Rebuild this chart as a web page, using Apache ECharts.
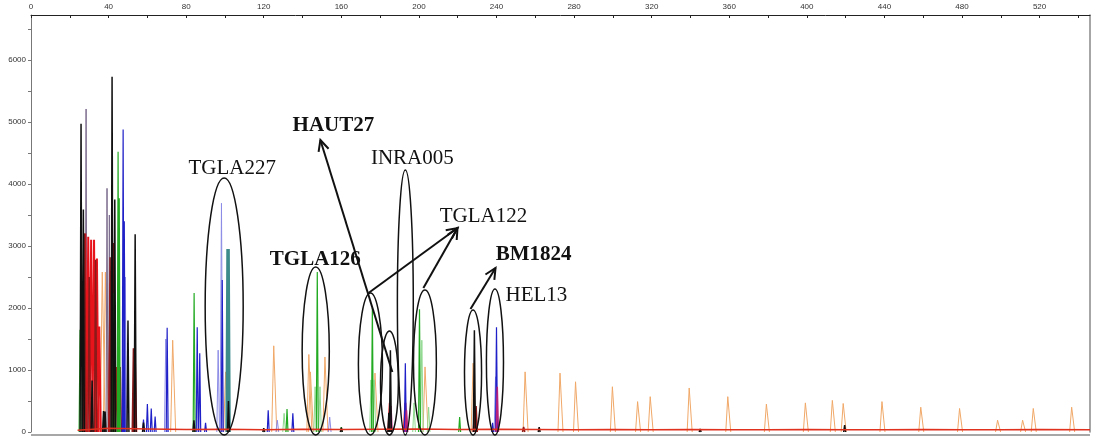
<!DOCTYPE html>
<html>
<head>
<meta charset="utf-8">
<script src="https://cdn.jsdelivr.net/npm/echarts@6/dist/echarts.min.js"></script>
<style>
html,body{margin:0;padding:0;background:#fff;}
#c{width:1093px;height:441px;}
</style>
</head>
<body>
<div id="c"></div>
<script>
// ---- axis ticks ----
var xTickValues = [0,20,40,60,80,100,120,140,160,180,200,220,240,260,280,300,320,340,360,380,400,420,440,460,480,500,520,540];
var xLabelValues = [0,40,80,120,160,200,240,280,320,360,400,440,480,520];
var yTickValues = [0,500,1000,1500,2000,2500,3000,3500,4000,4500,5000,5500,6000,6500];
var yLabelValues = [0,1000,2000,3000,4000,5000,6000];

// ---- peaks per dye: [size (bp), height (RFU)] ----
var blackPeaks = [[25.8,4970],[27.0,3590],[31.5,830],[37.4,340],[38.2,330],[41.8,5730],[43.2,3750],[50.0,1800],[53.7,3190],[58.0,150],[84.0,190],[101.8,500],[184.5,310],[185.3,1320],[228.6,1640],[419.5,110],[120.0,60],[160.0,70],[262.0,80],[345.0,50]];
var purplePeaks = [[28.4,5210],[39.2,3930],[40.4,3500]];
var redPeaks = [[28.0,3200],[29.5,3150],[31.0,3100],[32.5,3100],[34.0,2800],[35.2,1700],[41.0,2400],[44.0,1050],[53.5,1320],[185.0,470],[193.0,470],[228.9,350]];
var darkredPeaks = [[27.7,3200],[30.0,2500],[33.3,2780],[40.8,2820],[42.6,3050],[46.0,1050],[52.8,1350],[229.5,420],[254.0,80]];
var greenPeaks = [[25.3,1650],[42.3,2240],[44.9,4520],[45.5,3770],[84.1,2240],[132.0,370],[147.6,2580],[160.0,80],[176.0,2000],[200.3,1980],[221.0,240]];
var lightgreenPeaks = [[130.5,300],[146.5,730],[149.0,730],[175.3,840],[177.0,840],[197.5,470],[201.5,1480],[205.0,400]];
var bluePeaks = [[47.5,4880],[48.1,3400],[58.0,200],[60.0,450],[62.0,380],[64.0,250],[70.2,1680],[85.7,1690],[87.0,1270],[90.0,150],[98.6,2450],[122.3,350],[135.0,300],[193.0,1110],[238.0,150],[240.0,1690]];
var lightbluePeaks = [[48.6,2500],[69.5,1500],[96.5,1320],[98.2,3690],[127.0,190],[154.0,240],[239.5,890]];
var tealPeaks = [[101.2,2950],[102.0,2950]];
var magentaPeaks = [[185.6,420],[193.6,350],[240.4,730]];
var orangePeaks = [[37.0,2580],[38.6,2580],[73.3,1480],[100.6,970],[125.4,1390],[143.5,1250],[144.3,970],[151.8,1210],[177.6,950],[203.4,1050],[228.2,1110],[255.0,970],[273.0,950],[281.0,810],[300.0,730],[313.0,490],[319.5,570],[339.6,710],[359.5,570],[379.4,450],[399.5,470],[413.4,510],[419.0,460],[439.0,490],[459.0,400],[479.0,380],[498.6,190],[511.5,190],[517.0,380],[536.8,400]];
var baselinePoints = [[24,30],[40,60],[60,50],[80,40],[100,45],[120,35],[140,45],[160,40],[180,45],[200,50],[220,40],[240,45],[260,40],[280,35],[300,40],[320,35],[340,40],[360,35],[380,35],[400,40],[420,35],[440,35],[460,40],[480,35],[500,35],[520,40],[546,35]];

// ---- annotations (data coordinates) ----
var ellipses = [ // [centre bp, half-width bp, top RFU]
  [99.6,9.8,4097],[146.8,7.0,2661],[175.0,6.2,2242],[184.8,4.6,1629],
  [193.0,4.1,4226],[203.1,5.9,2290],[227.9,4.4,1968],[239.2,4.4,2306]
];
var ellipseBottom = -48;
var labels = [ // [text, bp, RFU, bold]
  ['TGLA227',103.7,4258,false],['TGLA126',146.6,2774,true],['HAUT27',155.9,4935,true],
  ['INRA005',196.6,4419,false],['TGLA122',233.3,3484,false],['BM1824',259.1,2855,true],
  ['HEL13',260.6,2194,false]
];
var arrows = [ // [from bp, from RFU, to bp, to RFU]
  [186.3,968,149.2,4710],[174.0,2242,219.9,3290],[202.3,2323,219.9,3290],[226.6,1984,239.5,2645]
];

function peaksToLine(peaks, hw, top){
  var out = [];
  peaks.forEach(function(p){
    if (top) out.push([p[0]-hw,0],[p[0]-top,p[1]],[p[0]+top,p[1]],[p[0]+hw,0],[p[0]+hw,'-']);
    else out.push([p[0]-hw,0],[p[0],p[1]],[p[0]+hw,0],[p[0]+hw,'-']);
  });
  return out;
}
function mk(name, peaks, color, hw, lw, z, top){
  return {type:'line', name:name, data:peaksToLine(peaks,hw,top), symbol:'none', showSymbol:false,
    xAxisIndex:0, yAxisIndex:0, connectNulls:false, animation:false, silent:true, z:z||2,
    lineStyle:{color:color, width:lw||1}};
}

var chart = echarts.init(document.getElementById('c'), null, {renderer:'canvas'});
var axisFont = {fontSize:8, color:'#333', fontFamily:'Liberation Sans, Arial, sans-serif'};
chart.setOption({
  animation:false,
  backgroundColor:'#fff',
  grid:{left:31, right:3, top:15, bottom:9, containLabel:false},
  xAxis:[
    {type:'value', position:'top', min:0, max:546,
     axisLine:{show:true, onZero:false, lineStyle:{color:'#222', width:1}},
     axisTick:{show:true, inside:true, length:3, customValues:xTickValues, lineStyle:{color:'#222'}},
     axisLabel:Object.assign({show:true, margin:4, customValues:xLabelValues}, axisFont),
     splitLine:{show:false}}
  ],
  yAxis:[
    {type:'value', position:'left', min:0, max:6726,
     axisLine:{show:true, onZero:false, lineStyle:{color:'#777', width:1}},
     axisTick:{show:true, length:3, customValues:yTickValues, lineStyle:{color:'#777'}},
     axisLabel:Object.assign({show:true, margin:5, customValues:yLabelValues,
       formatter:function(v){return String(v);}}, axisFont),
     splitLine:{show:false}},
    {type:'value', position:'right', min:0, max:6726,
     axisLine:{show:true, onZero:false, lineStyle:{color:'#888', width:1.5}},
     axisTick:{show:false}, axisLabel:{show:false}, splitLine:{show:false}}
  ],
  series:[
    mk('orange', orangePeaks, '#f0a868', 1.3, 1, 2, 0.25),
    mk('lightgreen', lightgreenPeaks, '#8ed88e', 0.7, 1, 2),
    mk('lightblue', lightbluePeaks, '#8c8ce6', 0.7, 1, 2),
    mk('purple', purplePeaks, '#7a6a8c', 0.5, 1, 3),
    mk('red', redPeaks, '#e8141c', 0.8, 2, 3),
    mk('darkred', darkredPeaks, '#8b1a1a', 0.6, 1.5, 3),
    mk('green', greenPeaks, '#22aa22', 0.5, 1.2, 4),
    mk('blue', bluePeaks, '#2020c8', 0.5, 1.2, 4),
    mk('teal', tealPeaks, '#3d8b8b', 0.5, 2, 4),
    mk('magenta', magentaPeaks, '#b8207a', 0.6, 1.5, 4),
    mk('black', blackPeaks, '#111111', 0.5, 1.5, 5),
    {type:'line', name:'baseline', data:baselinePoints, symbol:'none', animation:false, silent:true, z:6,
     lineStyle:{color:'#e0301e', width:1.5}}
  ]
});

function px(x,y){ return chart.convertToPixel({xAxisIndex:0, yAxisIndex:0},[x,y]); }
var g = [];
// bottom frame line just below the zero line
var b0 = px(0,0), b1 = px(546,0);
g.push({type:'line', silent:true, z:50, shape:{x1:b0[0], y1:b0[1]+3, x2:b1[0], y2:b1[1]+3},
  style:{stroke:'#8a8a8a', lineWidth:1.5}});
ellipses.forEach(function(e){
  var c = px(e[0], (e[2]+ellipseBottom)/2), l = px(e[0]-e[1],0), t = px(e[0],e[2]);
  g.push({type:'ellipse', silent:true, z:100,
    shape:{cx:c[0], cy:c[1], rx:c[0]-l[0], ry:c[1]-t[1]},
    style:{fill:'none', stroke:'#111', lineWidth:1.5}});
});
arrows.forEach(function(a){
  var p0 = px(a[0],a[1]), p1 = px(a[2],a[3]);
  var ang = Math.atan2(p1[1]-p0[1], p1[0]-p0[0]);
  var L = 12, s = 0.45;
  var h1 = [p1[0]-L*Math.cos(ang-s), p1[1]-L*Math.sin(ang-s)];
  var h2 = [p1[0]-L*Math.cos(ang+s), p1[1]-L*Math.sin(ang+s)];
  g.push({type:'line', silent:true, z:100, shape:{x1:p0[0],y1:p0[1],x2:p1[0],y2:p1[1]}, style:{stroke:'#111', lineWidth:2}});
  g.push({type:'polyline', silent:true, z:100, shape:{points:[h1,p1,h2]}, style:{stroke:'#111', lineWidth:2, fill:'none'}});
});
labels.forEach(function(lb){
  var p = px(lb[1], lb[2]);
  g.push({type:'text', silent:true, z:101, x:p[0], y:p[1],
    style:{text:lb[0], fill:'#111', align:'center', verticalAlign:'middle',
      font:(lb[3]?'bold ':'')+'21px "Liberation Serif", "Times New Roman", serif'}});
});
chart.setOption({graphic:g});
</script>
</body>
</html>
